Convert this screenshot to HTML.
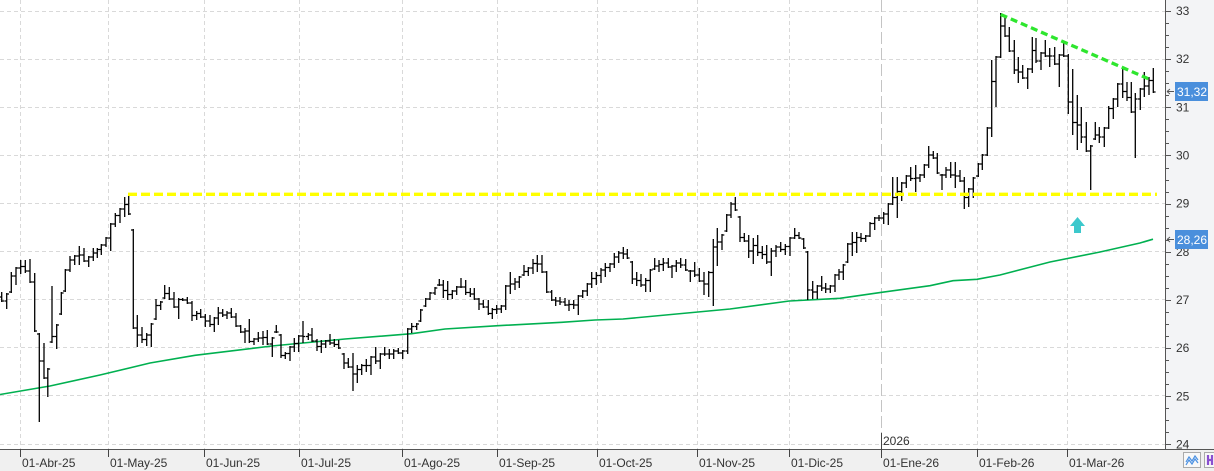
<!DOCTYPE html>
<html><head><meta charset="utf-8"><style>
html,body{margin:0;padding:0;background:#fff;overflow:hidden;}
svg{display:block;}
text{font-family:"Liberation Sans",Arial,sans-serif;font-size:12px;fill:#333;}
</style></head><body>
<svg id="c" width="1214" height="471" viewBox="0 0 1214 471" xmlns="http://www.w3.org/2000/svg">
<rect x="0" y="0" width="1214" height="471" fill="#fff"/>
<rect x="1165" y="0" width="49" height="449" fill="#f3f4f6"/>
<rect x="0" y="449" width="1214" height="22" fill="#f0f0f0"/>
<g stroke="#d9d9d9" stroke-width="1" stroke-dasharray="4 3" fill="none">
<path d="M0 11.5H1165M0 59.5H1165M0 107.5H1165M0 155.5H1165M0 203.5H1165M0 251.5H1165M0 299.5H1165M0 347.5H1165M0 395.5H1165M0 444.5H1165"/>
<path d="M20.5 0V449M108.5 0V449M204.5 0V449M299.5 0V449M402.5 0V449M497.5 0V449M597.5 0V449M697.5 0V449M789.5 0V449M977.5 0V449M1067.5 0V449"/>
</g>
<line x1="881.5" y1="0" x2="881.5" y2="449" stroke="#c4c4c4" stroke-width="1" stroke-dasharray="12 4"/>
<polyline fill="none" stroke="#00b050" stroke-width="1.6" points="0,394.5 50,386 100,375 150,363 195,355.3 271.7,346 345,339 411.7,333.7 445,329 498,325.7 561.7,322.3 595,320 623,319 730,309 789.3,301 840,298.3 881.7,292.3 930,285.7 953,280.7 977,279.3 1000,275 1050,262 1100,252 1140,243 1153,239.2"/>
<path id="bars" fill="none" stroke="#000" stroke-width="1.3" d=""/>
<line x1="128" y1="194.3" x2="1157" y2="194.3" stroke="#ffff00" stroke-width="3.4" stroke-dasharray="9 4"/>
<line x1="1000.7" y1="14.5" x2="1150" y2="79.5" stroke="#2ee62e" stroke-width="3.3" stroke-dasharray="7 4"/>
<polygon points="1077.5,217 1070,226 1074,226 1074,233 1081,233 1081,226 1085,226" fill="#3cc8cc"/>
<line x1="1165.5" y1="0" x2="1165.5" y2="449" stroke="#555" stroke-width="1"/>
<line x1="0" y1="449.5" x2="1214" y2="449.5" stroke="#555" stroke-width="1"/>
<path id="yt" fill="none" stroke="#555" stroke-width="1" d=""/>
<g>
<text x="1176" y="15">33</text>
<text x="1176" y="63.2">32</text>
<text x="1176" y="111.3">31</text>
<text x="1176" y="159.5">30</text>
<text x="1176" y="207.6">29</text>
<text x="1176" y="255.8">28</text>
<text x="1176" y="304">27</text>
<text x="1176" y="352.1">26</text>
<text x="1176" y="400.3">25</text>
<text x="1176" y="448.4">24</text>
</g>
<rect x="1175" y="82" width="33" height="19" fill="#4a8fdc"/>
<text x="1177" y="96" style="fill:#fff">31,32</text>
<rect x="1175" y="230" width="33" height="19" fill="#4a8fdc"/>
<text x="1177" y="244" style="fill:#fff">28,26</text>
<path d="M1167 91.5H1174M1167 91.5L1170 89M1167 91.5L1170 94M1167 239.5H1174M1167 239.5L1170 237M1167 239.5L1170 242" stroke="#555" stroke-width="0.9" fill="none"/>
<path d="M20.5 449V457M108.5 449V457M204.5 449V457M299.5 449V457M402.5 449V457M497.5 449V457M597.5 449V457M697.5 449V457M789.5 449V457M881.5 433V458M977.5 449V457M1067.5 449V457" stroke="#444" stroke-width="1"/>
<text x="883" y="445">2026</text>
<g>
<text x="22" y="467">01-Abr-25</text>
<text x="110" y="467">01-May-25</text>
<text x="206" y="467">01-Jun-25</text>
<text x="301" y="467">01-Jul-25</text>
<text x="404" y="467">01-Ago-25</text>
<text x="499" y="467">01-Sep-25</text>
<text x="599" y="467">01-Oct-25</text>
<text x="699" y="467">01-Nov-25</text>
<text x="791" y="467">01-Dic-25</text>
<text x="883" y="467">01-Ene-26</text>
<text x="979" y="467">01-Feb-26</text>
<text x="1069" y="467">01-Mar-26</text>
</g>
<rect x="1183.5" y="452.5" width="17" height="15" fill="#f8f8f8" stroke="#aaa" stroke-width="1"/>
<polyline points="1186,462 1189,457 1192,461 1195,456 1198,460" fill="none" stroke="#4a90e2" stroke-width="1.2"/>
<polyline points="1186,465 1189,460 1192,464 1195,459 1198,463" fill="none" stroke="#4a90e2" stroke-width="1.2"/>
<rect x="1204.5" y="452.5" width="12" height="15" fill="#f8f8f8" stroke="#aaa" stroke-width="1"/>
<path d="M1208 455V465M1212 455V465M1208 460H1212" stroke="#8a4fd0" stroke-width="2.2" fill="none"/>
</svg>
<script>
var d=[[1.7,292,302],[6.7,293,309],[11.3,272,293],[16,267,285],[20.7,260,274],[25.3,260,273],[30,259,283],[34.7,273,332],[39.3,333,422],[44,343,379],[47.8,368,397],[52,286,343],[56.7,324,349],[61.3,292,315],[65.3,269,292],[70,256,272],[74.7,255,265],[79.3,246,265],[84,248,262],[88.7,256,267],[93.3,248,261],[97.3,248,258],[101.3,244,255],[106,237,247],[110.7,223,251],[115.3,213,227],[120,208,223],[124.7,197,217],[128.7,194,215],[133.3,229,329],[137.3,315,347],[142,327,343],[146.7,333,346],[151.3,323,347],[156,299,320],[160.7,301,310],[164.7,285,299],[169.3,287,300],[174,292,308],[178.7,298,319],[182.7,298,301],[187.3,297,304],[192,301,321],[196.7,311,320],
[200.7,309,318],[205.3,314,327],[210,315,327],[214.3,317,332],[218.3,307,325],[222.7,309,317],[227,311,319],[231.3,308,318],[236,313,327],[240.7,325,333],[245,328,343],[249.3,319,343],[254,338,345],[258.3,332,342],[263,331,345],[267.3,330,345],[272.3,337,357],[276.3,325,333],[281,334,358],[285.3,352,359],[290,346,361],[294.3,338,352],[298.7,335,352],[303,321,343],[308.3,333,340],[312,328,342],[317,339,351],[321.3,340,353],[325.7,340,348],[330,334,345],[334.3,339,347],[338.7,340,349],[344,353,369],[348.3,358,368],[353,353,391],[357.3,365,383],[361.7,364,375],[366.3,359,372],[371,356,375],[375.7,347,364],[380.3,353,369],[384.7,347,356],[389.3,349,359],[393.7,349,359],[398.3,348,354],[402.7,350,359],[407.7,328,354],[411.7,323,333],
[416.7,323,330],[420.7,309,322],[425.7,298,307],[430,292,300],[435,287,295],[439.3,279,286],[443.3,280,298],[447.7,281,300],[452.3,290,299],[456.7,286,295],[461,278,288],[465.7,280,295],[470.3,288,297],[474.3,288,300],[479,298,310],[483.3,300,308],[488.3,300,315],[492.3,308,319],[496.7,305,314],[501.3,305,313],[505.7,285,310],[510.3,272,294],[515,278,290],[519.3,276,288],[524,265,276],[528.3,267,276],[533,259,274],[537.3,255,272],[542,255,273],[546.7,271,293],[551.7,290,301],[555.7,297,306],[560,297,305],[565,298,306],[569,300,311],[573.7,300,309],[578.3,295,315],[582.7,290,298],[587.3,283,296],[591.7,272,288],[596.3,272,285],[601,268,283],[605.3,263,277],[610,263,272],[614.3,253,268],[618.7,251,263],
[623.3,247,259],[627.3,249,259],[632.3,261,284],[636.7,272,286],[641,274,287],[645.7,278,292],[650.3,269,292],[654.7,258,270],[659,260,272],[663.3,258,271],[668.3,258,268],[672,265,278],[676.3,260,272],[680.7,258,268],[685.7,259,271],[690.3,270,282],[694.7,262,277],[699.3,268,282],[704,272,295],[708.7,271,297],[713.3,239,306],[717.3,228,266],[722,234,250],[726.7,214,232],[731,202,218],[735.3,197,211],[740,216,242],[744.3,233,242],[748.7,235,258],[753.3,238,264],[757.7,235,256],[762.3,246,259],[766.7,245,264],[771.3,248,276],[776,245,257],[780.7,242,252],[785.3,244,255],[790,237,256],[794.7,228,239],[799,232,239],[803.7,238,249],[807.7,251,300],[812.7,281,299],[817.3,285,299],[821.7,276,291],[825.7,283,293],[830.3,285,293],[835,274,292],[839,269,280],
[843.3,264,280],[847.7,243,263],[852.3,232,256],[856.7,232,253],[861,233,242],[865.7,235,242],[870,222,237],[874.7,217,230],[879,215,221],[883.7,212,224],[888.3,203,225],[892.7,177,205],[897.3,177,218],[901.7,182,201],[906.3,175,188],[910.7,167,181],[915.7,165,192],[920,174,182],[924.3,164,178],[928.7,146,168],[933.3,151,159],[937.3,153,174],[942,174,190],[946,167,178],[950.7,162,178],[955.3,162,188],[960,170,182],[964.3,177,209],[968.7,188,207],[973.3,177,198],[978.3,163,177],
[982.3,154,170],[987.3,127,156],[991.7,60,137],[996,56,107],[1000.7,13,58],[1005,15,37],[1009.3,27,52],[1014.3,40,74],[1018.3,57,83],[1022.7,65,79],[1027.7,68,89],[1032.3,37,73],[1036,38,63],[1041,52,70],[1045.3,40,57],[1049.7,48,67],[1054.7,47,65],[1059.3,54,87],[1063.7,42,57],[1068.3,54,114],[1072.7,69,135],[1077.3,95,150],[1081.3,107,143],[1086.3,122,152],[1090.7,145,190],[1095.3,122,140],[1099.3,127,143],[1104.3,127,147],[1108.7,106,129],[1113.3,98,119],[1117.7,83,107],[1122.7,68,98],[1127,82,101],[1131.3,82,113],[1135.3,93,158],[1140.3,88,110],[1144.3,72,97],[1149,77,95],[1153.3,68,93]];
var p='',prev=null;
for(var i=0;i<d.length;i++){
 var x=d[i][0],t=d[i][1],b=d[i][2];
 var nc=i<d.length-1?(d[i+1][1]+d[i+1][2])/2:92;
 var c=Math.min(b-1,Math.max(t+1,nc));
 var o=prev===null?(t+b)/2:Math.min(b-1,Math.max(t+1,prev));
 p+='M'+x+' '+t+'V'+b+'M'+(x-2.3)+' '+o+'H'+x+'M'+x+' '+c+'H'+(x+2.3);
 prev=c;
}
document.getElementById('bars').setAttribute('d',p);
var q='';
for(var k=0;k<=36;k++){
 var y=Math.round(11+k*12.04)+0.5;
 q+='M1165 '+y+'H'+(k%4==0?1171:1169);
}
document.getElementById('yt').setAttribute('d',q);
</script>
</body></html>
